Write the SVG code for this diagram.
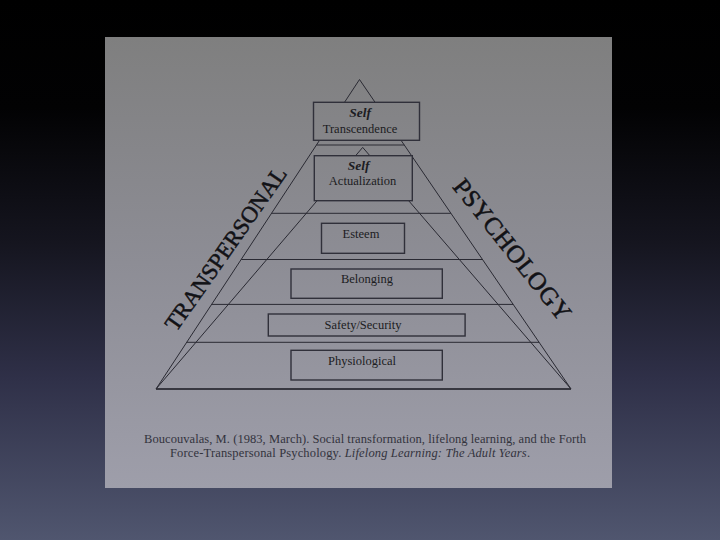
<svg xmlns="http://www.w3.org/2000/svg" width="720" height="540" viewBox="0 0 720 540">
<defs>
<linearGradient id="bg" x1="0" y1="0" x2="0" y2="540" gradientUnits="userSpaceOnUse">
<stop offset="0" stop-color="#000000"/>
<stop offset="0.2" stop-color="#020203"/>
<stop offset="0.45" stop-color="#15151f"/>
<stop offset="0.7" stop-color="#2f3048"/>
<stop offset="1" stop-color="#50566f"/>
</linearGradient>
<linearGradient id="panel" x1="0" y1="37" x2="0" y2="488" gradientUnits="userSpaceOnUse">
<stop offset="0" stop-color="#7f7f7f"/>
<stop offset="0.5" stop-color="#8d8d95"/>
<stop offset="1" stop-color="#9e9eaa"/>
</linearGradient>
<style>
.ln{stroke:#2a2a33;stroke-width:1;fill:none}
.bx{fill:url(#panel);stroke:#30303a;stroke-width:1.4}
.t{font-family:"Liberation Serif","Times New Roman",serif;fill:#1c1c22;text-anchor:middle}
.lbl{font-size:12.5px}
.self{font-size:13.5px;font-weight:bold;font-style:italic}
.side{font-size:23px;fill:#121216;stroke:#121216;stroke-width:0.5}
.cite{font-family:"Liberation Serif","Times New Roman",serif;font-size:12.5px;fill:#33333d}
</style>
</defs>
<rect x="0" y="0" width="720" height="540" fill="url(#bg)"/>
<rect x="105" y="37" width="507" height="451" fill="url(#panel)"/>
<g id="connectors">
<polygon class="ln" points="359.5,79.5 156,389 571,389"/>
<line class="ln" x1="156" y1="389" x2="571" y2="389" style="stroke-width:1.4"/>
<polyline class="ln" points="156,389 362.7,147.4 571,389"/>
<line class="ln" x1="316.4" y1="145" x2="404.3" y2="145"/>
<line class="ln" x1="271.5" y1="213.3" x2="450.9" y2="213.3"/>
<line class="ln" x1="241.2" y1="259.5" x2="482.5" y2="259.5"/>
<line class="ln" x1="211.6" y1="304.4" x2="513.2" y2="304.4"/>
<line class="ln" x1="186.7" y1="342.3" x2="539.1" y2="342.3"/>
</g>
<g id="self-transcendence">
<rect class="bx" x="313.5" y="102.3" width="106" height="38"/>
<text class="t self" x="360" y="117.3">Self</text>
<text class="t lbl" x="360" y="133.3">Transcendence</text>
</g>
<g id="self-actualization">
<rect class="bx" x="314.3" y="155.7" width="98" height="45"/>
<text class="t self" x="358.5" y="170">Self</text>
<text class="t lbl" x="362.5" y="185">Actualization</text>
</g>
<g id="esteem">
<rect class="bx" x="321.5" y="223.3" width="83" height="30"/>
<text class="t lbl" x="361" y="238.3">Esteem</text>
</g>
<g id="belonging">
<rect class="bx" x="291" y="269" width="151.3" height="29.3"/>
<text class="t lbl" x="367" y="283.3">Belonging</text>
</g>
<g id="safety-security">
<rect class="bx" x="268.3" y="314" width="196.8" height="22"/>
<text class="t lbl" x="363" y="329.3">Safety/Security</text>
</g>
<g id="physiological">
<rect class="bx" x="291" y="350.3" width="151.3" height="29.7"/>
<text class="t lbl" x="362" y="365">Physiological</text>
</g>
<g id="side-labels">
<text class="t side" transform="translate(232,253) rotate(-55)">TRANSPERSONAL</text>
<text class="t side" transform="translate(506,255) rotate(51.5)" style="font-size:25px" letter-spacing="0.6">PSYCHOLOGY</text>
</g>
<g id="citation">
<text class="cite" x="144" y="443.3" textLength="442" lengthAdjust="spacing">Boucouvalas, M. (1983, March).  Social transformation, lifelong learning, and the Forth</text>
<text class="cite" x="170" y="457.3" textLength="360" lengthAdjust="spacing">Force-Transpersonal Psychology.  <tspan font-style="italic">Lifelong Learning:  The Adult Years</tspan>.</text>
</g>
</svg>
